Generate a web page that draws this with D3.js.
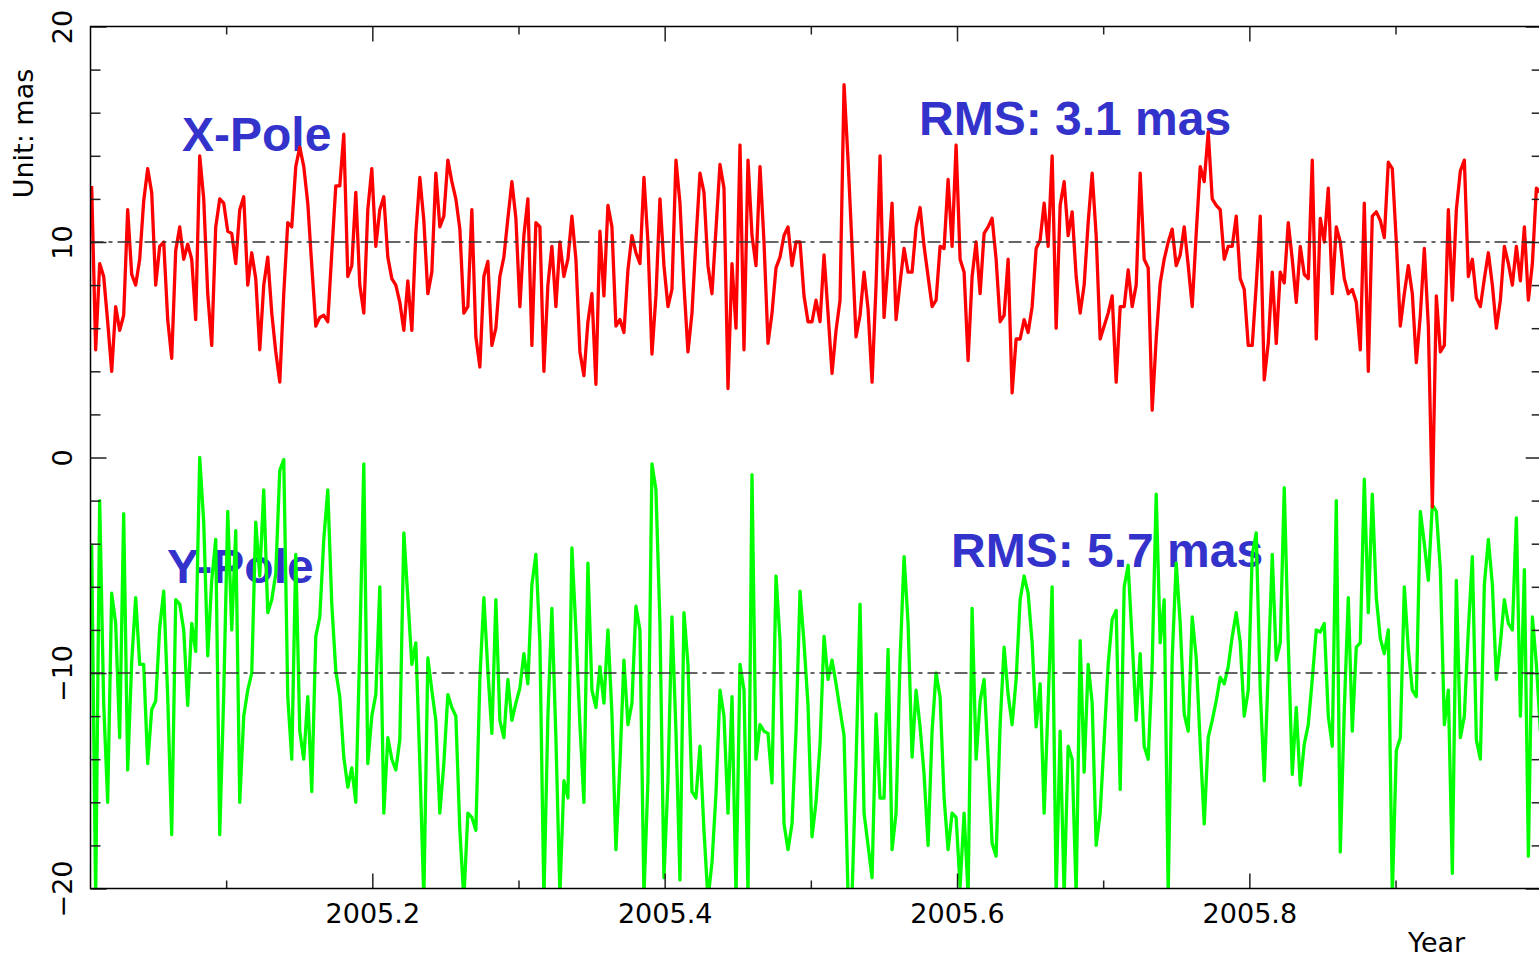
<!DOCTYPE html>
<html>
<head>
<meta charset="utf-8">
<script src="https://cdn.jsdelivr.net/npm/d3@7"></script>
<style>
body { margin: 0; background: #fff; }
.axis-text { font-family: "DejaVu Sans", sans-serif; font-size: 27px; fill: #000; }
.pole-label { font-family: "Liberation Sans", Arial, sans-serif; font-weight: bold; font-size: 48px; fill: #3333cc; }
</style>
</head>
<body>
<div id="chart"></div>
<script>
// daily pole residuals (mas), X offset by +10, Y offset by -10
var startYear = 2005.008;
var dayStep = 1 / 365.25;

var xPole = [
  12.6, 5.0, 9.0, 8.4, 6.3, 4.0, 7.0, 5.9, 6.6, 11.5, 8.5, 8.0, 9.2, 11.9, 13.4, 12.3, 8.0, 9.8, 10.0, 6.4,
  4.6, 9.6, 10.7, 9.2, 9.9, 9.2, 6.4, 14.0, 12.0, 7.6, 5.2, 10.7, 12.0, 11.8, 10.5, 10.4, 9.0, 11.5, 12.1, 8.0,
  9.5, 8.3, 5.0, 8.0, 9.3, 6.7, 4.9, 3.5, 7.6, 10.9, 10.7, 13.5, 14.4, 13.5, 11.8, 8.9, 6.1, 6.5, 6.6, 6.3,
  9.5, 12.6, 12.6, 15.0, 8.4, 8.9, 12.3, 8.0, 6.7, 11.5, 13.4, 9.8, 11.5, 12.1, 9.3, 8.3, 8.0, 7.2, 5.9, 8.2,
  5.9, 10.4, 13.0, 11.0, 7.6, 8.6, 13.2, 10.7, 11.2, 13.8, 12.8, 12.0, 10.6, 6.7, 7.0, 11.5, 5.6, 4.2, 8.4, 9.1,
  5.2, 6.0, 8.4, 9.3, 11.1, 12.8, 11.1, 7.0, 10.3, 12.0, 5.2, 10.9, 10.7, 4.0, 8.0, 9.8, 7.0, 10.0, 8.4, 9.2,
  11.2, 9.2, 4.9, 3.8, 6.3, 7.6, 3.4, 10.5, 7.5, 11.7, 10.7, 6.1, 6.4, 5.8, 8.7, 10.3, 9.5, 9.0, 13.0, 10.0,
  4.8, 7.5, 12.0, 8.9, 7.0, 7.8, 13.8, 11.8, 8.0, 4.9, 6.7, 10.1, 13.2, 12.3, 8.9, 7.6, 10.6, 13.6, 12.5, 3.2,
  9.0, 6.0, 14.5, 5.0, 13.8, 10.3, 8.9, 13.5, 10.0, 5.3, 6.7, 8.8, 9.3, 10.3, 10.7, 8.9, 10.0, 10.0, 7.5, 6.3,
  6.3, 7.3, 6.3, 9.4, 6.7, 3.9, 5.9, 7.3, 17.3, 13.8, 9.8, 5.6, 6.6, 8.6, 6.9, 3.5, 8.0, 14.0, 6.5, 9.0,
  11.8, 6.4, 8.1, 9.7, 8.6, 8.6, 10.7, 11.6, 9.8, 8.4, 7.0, 7.3, 9.8, 9.7, 12.9, 9.8, 14.5, 9.2, 8.6, 4.5,
  8.4, 10.0, 7.6, 10.4, 10.7, 11.1, 9.2, 6.3, 6.6, 9.2, 3.0, 5.5, 5.5, 6.4, 5.8, 7.0, 9.7, 10.1, 11.8, 9.8,
  14.0, 6.0, 11.7, 12.8, 10.3, 11.4, 8.4, 6.7, 8.0, 10.9, 13.2, 10.3, 5.5, 6.1, 6.7, 7.5, 3.5, 7.0, 7.0, 8.7,
  7.0, 8.0, 13.2, 9.2, 8.8, 2.2, 5.5, 8.1, 9.2, 10.0, 10.6, 8.9, 9.4, 10.7, 8.9, 7.0, 10.4, 13.5, 12.8, 15.1,
  12.0, 11.7, 11.5, 9.2, 9.8, 9.8, 11.2, 8.3, 7.8, 5.2, 5.2, 8.0, 11.2, 3.6, 5.3, 8.6, 5.3, 8.6, 8.1, 10.9,
  9.2, 7.2, 9.8, 8.5, 8.3, 13.8, 5.5, 11.1, 10.0, 12.5, 7.6, 10.7, 10.0, 8.3, 7.6, 7.8, 7.2, 5.0, 11.8, 4.0,
  11.2, 11.4, 11.0, 10.2, 13.7, 13.4, 10.0, 6.1, 7.6, 8.9, 7.6, 4.4, 6.6, 9.7, 6.1, -2.3, 7.5, 4.9, 5.2, 11.5,
  7.3, 11.5, 13.3, 13.8, 8.4, 9.2, 7.4, 7.0, 8.3, 9.5, 8.0, 6.0, 7.3, 9.8, 9.0, 8.0, 9.8, 8.2, 10.7, 7.3,
  9.0, 12.5, 12.3
];

var yPole = [
  -4.0, -20.5, -2.0, -11.4, -16.0, -6.3, -7.7, -13.0, -2.6, -14.5, -9.5, -6.5, -9.6, -9.6, -14.2, -11.7, -11.3, -7.9, -6.2, -11.1,
  -17.5, -6.6, -6.8, -8.0, -11.5, -7.7, -9.0, 0.0, -3.0, -9.2, -5.7, -3.8, -17.5, -11.0, -2.5, -8.0, -3.4, -16.0, -12.0, -10.8,
  -10.0, -3.0, -5.5, -1.5, -7.2, -6.6, -5.4, -0.6, -0.1, -11.1, -14.0, -4.5, -12.7, -14.0, -11.1, -15.5, -8.3, -7.4, -3.8, -1.5,
  -6.8, -9.9, -11.1, -13.9, -15.3, -14.4, -16.0, -8.8, -0.3, -14.2, -12.0, -11.0, -6.0, -16.5, -13.0, -14.0, -14.5, -13.1, -3.5, -6.5,
  -9.6, -8.6, -14.2, -20.5, -9.3, -10.8, -12.2, -16.5, -14.2, -11.0, -11.6, -12.0, -17.3, -20.5, -16.5, -16.7, -17.3, -10.3, -6.5, -9.9,
  -12.8, -6.6, -12.2, -13.0, -10.3, -12.2, -11.4, -10.7, -9.1, -10.5, -5.9, -4.5, -8.6, -20.5, -12.0, -7.0, -13.0, -20.3, -15.0, -15.8,
  -4.2, -8.0, -12.4, -16.0, -4.9, -10.8, -11.6, -9.7, -11.4, -8.0, -11.9, -18.2, -14.2, -9.4, -12.4, -11.4, -6.9, -8.0, -20.3, -15.0,
  -0.3, -1.5, -7.7, -19.5, -15.0, -7.4, -12.7, -19.6, -7.2, -9.6, -15.5, -15.8, -13.4, -17.3, -20.5, -18.8, -15.6, -10.8, -12.0, -16.5,
  -11.1, -20.3, -9.6, -10.8, -20.3, -0.8, -14.0, -12.4, -12.7, -12.8, -15.1, -5.5, -8.5, -17.0, -18.2, -17.0, -12.7, -6.2, -8.6, -11.5,
  -17.6, -16.0, -13.3, -8.3, -10.3, -9.4, -10.5, -11.7, -12.9, -20.3, -20.3, -14.2, -6.8, -16.5, -18.0, -19.5, -11.9, -15.8, -15.8, -8.9,
  -18.2, -16.5, -9.4, -4.6, -7.7, -13.9, -10.8, -12.5, -14.7, -18.0, -12.7, -10.0, -11.1, -15.8, -18.2, -16.5, -16.7, -19.9, -16.5, -20.3,
  -7.0, -14.0, -11.3, -10.3, -13.9, -17.9, -18.5, -12.4, -8.8, -11.0, -12.4, -10.3, -6.6, -5.5, -6.3, -8.6, -12.5, -10.5, -16.5, -11.4,
  -6.0, -20.3, -12.7, -20.3, -13.4, -14.0, -20.3, -8.5, -14.6, -9.6, -11.4, -18.0, -16.5, -13.1, -9.6, -7.5, -7.1, -15.4, -6.0, -5.0,
  -8.5, -12.2, -9.1, -13.4, -14.0, -9.6, -1.7, -8.6, -6.6, -20.3, -9.3, -4.9, -7.7, -11.9, -12.7, -7.4, -9.3, -13.3, -17.0, -13.0,
  -12.2, -11.3, -10.2, -10.5, -9.7, -8.3, -7.2, -8.6, -12.0, -10.8, -4.5, -3.5, -10.8, -15.0, -9.9, -4.5, -9.4, -8.6, -1.4, -8.6,
  -14.7, -11.6, -15.2, -13.3, -12.4, -10.3, -8.0, -8.1, -7.7, -12.0, -13.4, -2.0, -18.3, -11.7, -6.5, -12.7, -8.8, -8.6, -1.0, -7.2,
  -1.7, -6.5, -8.4, -9.1, -8.0, -20.3, -13.6, -13.0, -6.0, -8.9, -10.8, -11.1, -2.5, -4.0, -5.7, -2.2, -2.5, -5.2, -12.4, -10.8,
  -19.3, -5.7, -13.0, -12.0, -8.0, -4.6, -13.1, -14.0, -5.9, -3.8, -5.9, -10.3, -8.6, -6.6, -7.7, -8.0, -2.8, -12.0, -5.2, -18.5,
  -7.4, -9.6, -12.7
];

var xMajorTicks = [2005.2, 2005.4, 2005.6, 2005.8];
var xMinorTicks = [2005.1, 2005.3, 2005.5, 2005.7, 2005.9];
var yMajorTicks = [-20, -10, 0, 10, 20];
var yMinorTicks = [-18, -16, -14, -12, -8, -6, -4, -2, 2, 4, 6, 8, 12, 14, 16, 18];
var refLevels = [10, -10];
var poleNames = ["X-Pole", "Y-Pole"];
var rmsTexts = ["RMS: 3.1 mas", "RMS: 5.7 mas"];

var chartWidth = 1539, chartHeight = 958;
var plotLeft = 90.5, plotRight = 1541.7, plotTop = 26.5, plotBottom = 888.5;

var svg = d3.select("#chart").append("svg")
  .attr("width", chartWidth)
  .attr("height", chartHeight);

var x = d3.scaleLinear().domain([2005.0072, 2006.0]).range([plotLeft, plotRight]);
var y = d3.scaleLinear().domain([-20, 20]).range([plotBottom, plotTop]);

svg.append("clipPath").attr("id", "plot-clip")
  .append("rect")
  .attr("x", plotLeft).attr("y", plotTop)
  .attr("width", plotRight - plotLeft).attr("height", plotBottom - plotTop);

// blue annotations (drawn first, lines go over them)
var notes = svg.append("g").attr("class", "pole-label");
notes.append("text").attr("x", 182).attr("y", 151).text(poleNames[0]);
notes.append("text").attr("x", 919).attr("y", 135).text(rmsTexts[0]);
notes.append("text").attr("x", 167).attr("y", 583).text(poleNames[1]);
notes.append("text").attr("x", 951).attr("y", 567).text(rmsTexts[1]);

var line = d3.line()
  .x(function(d, i) { return x(startYear + i * dayStep); })
  .y(function(d) { return y(d); });

var series = svg.append("g").attr("clip-path", "url(#plot-clip)");

series.append("path")
  .datum(yPole)
  .attr("d", line)
  .attr("fill", "none")
  .attr("stroke", "#00ff00")
  .attr("stroke-width", 3.3)
  .attr("stroke-linejoin", "round");

series.append("path")
  .datum(xPole)
  .attr("d", line)
  .attr("fill", "none")
  .attr("stroke", "#ff0000")
  .attr("stroke-width", 3.3)
  .attr("stroke-linejoin", "round");

// dash-dot reference levels
series.selectAll(".ref")
  .data(refLevels)
  .enter().append("line")
  .attr("class", "ref")
  .attr("x1", plotLeft).attr("x2", plotRight)
  .attr("y1", function(d) { return y(d); })
  .attr("y2", function(d) { return y(d); })
  .attr("stroke", "#333")
  .attr("stroke-width", 1.5)
  .attr("stroke-dasharray", "13,5,4,5");

// axes, all ticks pointing inward
function styleAxis(g) {
  g.select(".domain").remove();
  g.selectAll("line").attr("stroke", "#222").attr("stroke-width", 1.5);
  g.attr("font-family", null).attr("font-size", null);
  g.selectAll("text").attr("class", "axis-text");
}

svg.append("g")
  .attr("transform", "translate(0," + plotBottom + ")")
  .call(d3.axisBottom(x).tickValues(xMajorTicks).tickSizeInner(-15).tickSizeOuter(0)
    .tickPadding(15).tickFormat(d3.format(".1f")))
  .call(styleAxis);

svg.append("g")
  .attr("transform", "translate(0," + plotBottom + ")")
  .call(d3.axisBottom(x).tickValues(xMinorTicks).tickSizeInner(-8).tickSizeOuter(0).tickFormat(""))
  .call(styleAxis);

svg.append("g")
  .attr("transform", "translate(0," + plotTop + ")")
  .call(d3.axisTop(x).tickValues(xMajorTicks).tickSizeInner(-15).tickSizeOuter(0).tickFormat(""))
  .call(styleAxis);

svg.append("g")
  .attr("transform", "translate(0," + plotTop + ")")
  .call(d3.axisTop(x).tickValues(xMinorTicks).tickSizeInner(-8).tickSizeOuter(0).tickFormat(""))
  .call(styleAxis);

var leftAxis = svg.append("g")
  .attr("transform", "translate(" + plotLeft + ",0)")
  .call(d3.axisLeft(y).tickValues(yMajorTicks).tickSizeInner(-16).tickSizeOuter(0).tickFormat(d3.format("d")))
  .call(styleAxis);

leftAxis.selectAll("text")
  .attr("x", 0)
  .attr("dy", 0)
  .attr("text-anchor", "middle")
  .attr("transform", "translate(-18.5,0) rotate(-90)");

svg.append("g")
  .attr("transform", "translate(" + plotLeft + ",0)")
  .call(d3.axisLeft(y).tickValues(yMinorTicks).tickSizeInner(-10).tickSizeOuter(0).tickFormat(""))
  .call(styleAxis);

svg.append("g")
  .attr("transform", "translate(" + plotRight + ",0)")
  .call(d3.axisRight(y).tickValues(yMajorTicks).tickSizeInner(-16).tickSizeOuter(0).tickFormat(""))
  .call(styleAxis);

svg.append("g")
  .attr("transform", "translate(" + plotRight + ",0)")
  .call(d3.axisRight(y).tickValues(yMinorTicks).tickSizeInner(-10).tickSizeOuter(0).tickFormat(""))
  .call(styleAxis);

// frame
svg.append("rect")
  .attr("x", plotLeft).attr("y", plotTop)
  .attr("width", plotRight - plotLeft).attr("height", plotBottom - plotTop)
  .attr("fill", "none")
  .attr("stroke", "#000")
  .attr("stroke-width", 1.5);

// axis titles
svg.append("text")
  .attr("class", "axis-text")
  .attr("x", 1408)
  .attr("y", 952)
  .text("Year");

svg.append("text")
  .attr("class", "axis-text")
  .attr("text-anchor", "middle")
  .attr("transform", "translate(33,133.5) rotate(-90)")
  .text("Unit: mas");
</script>
</body>
</html>
